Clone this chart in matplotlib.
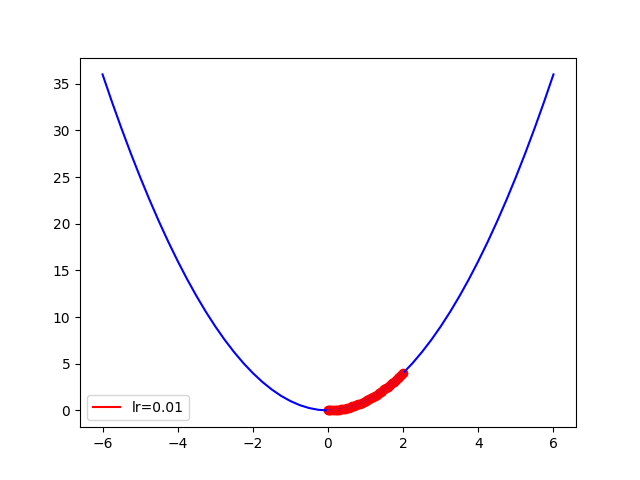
import matplotlib
matplotlib.use("Agg")
from matplotlib import pyplot as plt

# f(x) = x^2
curve_x = [-6.0, -5.75, -5.5, -5.25, -5.0, -4.75, -4.5, -4.25, -4.0, -3.75, -3.5, -3.25,
           -3.0, -2.75, -2.5, -2.25, -2.0, -1.75, -1.5, -1.25, -1.0, -0.75, -0.5, -0.25,
           0.0, 0.25, 0.5, 0.75, 1.0, 1.25, 1.5, 1.75, 2.0, 2.25, 2.5, 2.75,
           3.0, 3.25, 3.5, 3.75, 4.0, 4.25, 4.5, 4.75, 5.0, 5.25, 5.5, 5.75, 6.0]
curve_y = [36.0, 33.06, 30.25, 27.56, 25.0, 22.56, 20.25, 18.06, 16.0, 14.06, 12.25, 10.56,
           9.0, 7.56, 6.25, 5.06, 4.0, 3.06, 2.25, 1.56, 1.0, 0.56, 0.25, 0.06,
           0.0, 0.06, 0.25, 0.56, 1.0, 1.56, 2.25, 3.06, 4.0, 5.06, 6.25, 7.56,
           9.0, 10.56, 12.25, 14.06, 16.0, 18.06, 20.25, 22.56, 25.0, 27.56, 30.25, 33.06, 36.0]

# gradient descent path (red markers)
path_x = [2.0, 1.95, 1.9, 1.85, 1.8, 1.75, 1.7, 1.65, 1.6, 1.55, 1.5, 1.45, 1.4, 1.35,
          1.3, 1.25, 1.2, 1.15, 1.1, 1.05, 1.0, 0.95, 0.9, 0.85, 0.8, 0.75, 0.7, 0.65,
          0.6, 0.55, 0.5, 0.45, 0.4, 0.35, 0.3, 0.25, 0.2, 0.15, 0.1, 0.05, 0.02, 0.0]
path_y = [4.0, 3.80, 3.61, 3.42, 3.24, 3.06, 2.89, 2.72, 2.56, 2.40, 2.25, 2.10, 1.96, 1.82,
          1.69, 1.56, 1.44, 1.32, 1.21, 1.10, 1.0, 0.90, 0.81, 0.72, 0.64, 0.56, 0.49, 0.42,
          0.36, 0.30, 0.25, 0.20, 0.16, 0.12, 0.09, 0.06, 0.04, 0.02, 0.01, 0.0025, 0.0004, 0.0]

fig, ax = plt.subplots(figsize=(6.4, 4.8), dpi=100)
ax.plot(curve_x, curve_y, color="blue")
ax.scatter(path_x, path_y, color="red")
ax.plot(path_x, path_y, color="red", label="lr=0.01")
ax.legend(loc="lower left")
fig.savefig("out.png")
